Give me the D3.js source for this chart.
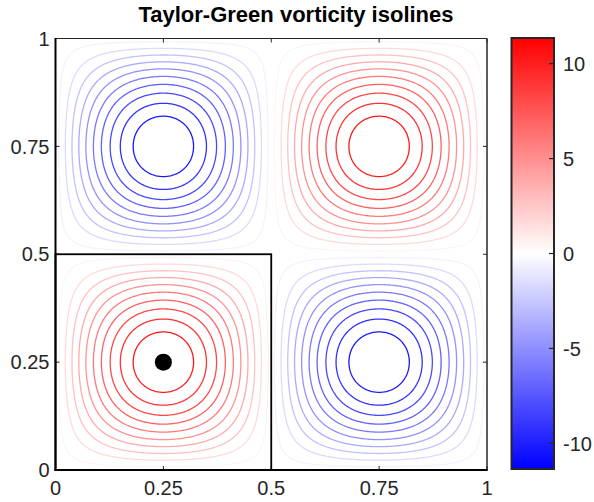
<!DOCTYPE html>
<html>
<head>
<meta charset="utf-8">
<script src="https://cdn.jsdelivr.net/npm/d3@7"></script>
<style>
  html, body { margin: 0; padding: 0; background: #fff; }
  svg { display: block; font-family: "Liberation Sans", Arial, Helvetica, sans-serif; }
</style>
</head>
<body>
<svg id="chart" width="594" height="502"></svg>
<script>
// ---- data ----
const titleText = "Taylor-Green vorticity isolines";
const vortMax = 11.35;                 // peak |vorticity| (colour limits)
const posLevels = [0.54, 1.62, 2.70, 3.78, 4.86, 5.95, 7.03, 8.11, 9.19, 10.27];
const negLevels = [-0.54, -1.62, -2.70, -3.78, -4.86, -5.95, -7.03, -8.11, -9.19, -10.27];
const xTicks = [0, 0.25, 0.5, 0.75, 1];
const xTickLabels = ["0", "0.25", "0.5", "0.75", "1"];
const yTicks = [0, 0.25, 0.5, 0.75, 1];
const yTickLabels = ["0", "0.25", "0.5", "0.75", "1"];
const cbTicks = [-10, -5, 0, 5, 10];
const cbTickLabels = ["-10", "-5", "0", "5", "10"];
const subBox = [[0, 0], [0.5, 0.5]];   // highlighted sub-domain
const probePoint = [0.25, 0.25];       // marked point

// ---- layout ----
const svg = d3.select("#chart");
const P = { left: 55.5, right: 487, top: 38.5, bottom: 470 };
const CB = { left: 511.5, right: 554, top: 38, bottom: 469 };
const ink = "#262626";
const fs = 20;

const x = d3.scaleLinear().domain([0, 1]).range([P.left, P.right]);
const y = d3.scaleLinear().domain([0, 1]).range([P.bottom, P.top]);
const cScale = d3.scaleLinear().domain([-vortMax, vortMax]).range([CB.bottom, CB.top]);

const colorOf = v => v >= 0
  ? d3.interpolateRgb("#ffffff", "#ff0000")(Math.min(1, v / vortMax))
  : d3.interpolateRgb("#ffffff", "#0000ff")(Math.min(1, -v / vortMax));

// ---- vorticity field of the Taylor-Green vortex on a grid ----
const N = 400;
const field = new Float64Array(N * N);
const fieldNeg = new Float64Array(N * N);
for (let r = 0; r < N; r++) {
  const yy = 1 - (r + 0.5) / N;
  for (let c = 0; c < N; c++) {
    const xx = (c + 0.5) / N;
    const w = vortMax * Math.sin(2 * Math.PI * xx) * Math.sin(2 * Math.PI * yy);
    field[r * N + c] = w;
    fieldNeg[r * N + c] = -w;
  }
}

const proj = d3.geoTransform({
  point: function (px, py) { this.stream.point(x(px / N), y(1 - py / N)); }
});
const path = d3.geoPath(proj);

const gC = svg.append("g");
const posC = d3.contours().size([N, N]).thresholds(posLevels)(field);
const negC = d3.contours().size([N, N]).thresholds(negLevels.map(v => -v))(fieldNeg);

gC.selectAll("path.pos").data(posC).join("path")
  .attr("d", path).attr("fill", "none")
  .attr("stroke", d => colorOf(d.value)).attr("stroke-width", 1.3);
gC.selectAll("path.neg").data(negC).join("path")
  .attr("d", path).attr("fill", "none")
  .attr("stroke", d => colorOf(-d.value)).attr("stroke-width", 1.3);

// ---- ticks (inward) ----
const gT = svg.append("g").attr("stroke", ink).attr("stroke-width", 1);
xTicks.forEach(t => {
  gT.append("line").attr("x1", x(t)).attr("x2", x(t)).attr("y1", P.bottom).attr("y2", P.bottom - 4);
  gT.append("line").attr("x1", x(t)).attr("x2", x(t)).attr("y1", P.top).attr("y2", P.top + 4);
});
yTicks.forEach(t => {
  gT.append("line").attr("y1", y(t)).attr("y2", y(t)).attr("x1", P.left).attr("x2", P.left + 4);
  gT.append("line").attr("y1", y(t)).attr("y2", y(t)).attr("x1", P.right).attr("x2", P.right - 4);
});

// ---- axes box ----
svg.append("line").attr("x1", P.left).attr("x2", P.right).attr("y1", P.top).attr("y2", P.top)
  .attr("stroke", ink).attr("stroke-width", 1.2);
svg.append("line").attr("x1", P.right).attr("x2", P.right).attr("y1", P.top).attr("y2", P.bottom)
  .attr("stroke", ink).attr("stroke-width", 1.5);
svg.append("line").attr("x1", P.left).attr("x2", P.left).attr("y1", P.top - 0.6).attr("y2", P.bottom + 1)
  .attr("stroke", "#000").attr("stroke-width", 2);
svg.append("line").attr("x1", P.left - 1).attr("x2", P.right + 0.75).attr("y1", P.bottom).attr("y2", P.bottom)
  .attr("stroke", "#000").attr("stroke-width", 2);

// ---- sub-domain box and probe point ----
svg.append("rect")
  .attr("x", x(subBox[0][0])).attr("y", y(subBox[1][1]))
  .attr("width", x(subBox[1][0]) - x(subBox[0][0]))
  .attr("height", y(subBox[0][1]) - y(subBox[1][1]))
  .attr("fill", "none").attr("stroke", "#000").attr("stroke-width", 1.8);
svg.append("circle").attr("cx", x(probePoint[0])).attr("cy", y(probePoint[1]))
  .attr("r", 8.5).attr("fill", "#000");

// ---- tick labels ----
xTicks.forEach((t, i) => {
  svg.append("text").attr("x", x(t)).attr("y", P.bottom + 25)
    .attr("text-anchor", "middle").attr("font-size", fs).attr("fill", ink).text(xTickLabels[i]);
});
yTicks.forEach((t, i) => {
  svg.append("text").attr("x", 49.5).attr("y", y(t)).attr("dy", "0.36em")
    .attr("text-anchor", "end").attr("font-size", fs).attr("fill", ink).text(yTickLabels[i]);
});

// ---- title ----
svg.append("text").attr("x", 296).attr("y", 22)
  .attr("text-anchor", "middle").attr("font-size", 22).attr("font-weight", "bold")
  .attr("fill", "#000").text(titleText);

// ---- colorbar ----
const defs = svg.append("defs");
const grad = defs.append("linearGradient").attr("id", "cbgrad")
  .attr("x1", 0).attr("y1", 1).attr("x2", 0).attr("y2", 0);
grad.append("stop").attr("offset", "0%").attr("stop-color", colorOf(-vortMax));
grad.append("stop").attr("offset", "50%").attr("stop-color", colorOf(0));
grad.append("stop").attr("offset", "100%").attr("stop-color", colorOf(vortMax));
svg.append("rect").attr("x", CB.left).attr("y", CB.top)
  .attr("width", CB.right - CB.left).attr("height", CB.bottom - CB.top)
  .attr("fill", "url(#cbgrad)").attr("stroke", ink).attr("stroke-width", 2);
cbTicks.forEach((t, i) => {
  svg.append("line").attr("x1", CB.right).attr("x2", CB.right - 5)
    .attr("y1", cScale(t)).attr("y2", cScale(t)).attr("stroke", ink).attr("stroke-width", 1.2);
  svg.append("text").attr("x", CB.right + 9).attr("y", cScale(t)).attr("dy", "0.36em")
    .attr("text-anchor", "start").attr("font-size", fs).attr("fill", ink).text(cbTickLabels[i]);
});
</script>
</body>
</html>
